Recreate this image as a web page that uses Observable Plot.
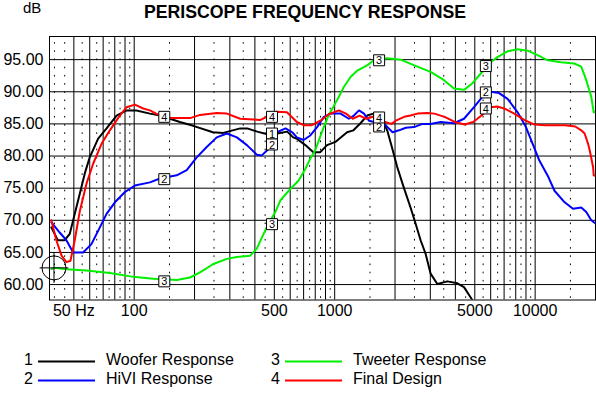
<!DOCTYPE html>
<html><head><meta charset="utf-8">
<script src="https://cdn.jsdelivr.net/npm/d3@7"></script>
<script src="https://cdn.jsdelivr.net/npm/@observablehq/plot@0.6"></script>
<style>
body{margin:0;background:#fff;}
#chart{width:596px;height:394px;}
</style>
</head><body><div id="chart"></div>
<script>
// ---- data (frequency Hz, level dB) ----
const woofer = [[38.6,68.9],[41.6,66.9],[45.0,66.9],[47.7,67.9],[49.6,70.0],[53.6,74.2],[56.7,77.3],[60.0,79.8],[66.1,82.7],[72.8,84.3],[81.7,86.3],[91.6,87.1],[102.8,87.1],[119.8,86.6],[134.5,86.3],[169,85.3],[197,84.7],[247,83.7],[278,83.6],[338,84.3],[366,84.3],[411,83.8],[461,83.4],[517,83.5],[580,83.8],[621,82.9],[648,82.7],[714,81.7],[783,80.6],[848,80.6],[916,81.7],[1008,82.2],[1153,83.7],[1240,84.0],[1345,85.1],[1452,86.3],[1561,86.6],[1692,86.1],[1828,84.0],[1936,81.2],[2051,78.3],[2206,75.2],[2390,72.0],[2532,69.5],[2683,66.9],[2841,64.8],[3010,61.7],[3251,60.1],[3648,60.5],[4093,60.2],[4416,59.6],[4771,58.0],[4900,57.4]];
const hivi = [[38.6,69.7],[42.5,68.1],[45.9,66.9],[49.6,65.0],[55.6,65.0],[61.2,66.3],[67.4,68.9],[72.8,71.0],[80.1,72.8],[89.9,74.4],[100.8,75.4],[119.8,75.9],[134.5,76.5],[162.9,77.0],[182.8,77.8],[205,79.8],[230,81.4],[258,82.9],[290,83.5],[325,82.9],[365,81.7],[409,80.2],[433,80.1],[468,81.1],[515,83.7],[569,84.3],[614,83.7],[648,82.9],[700,82.5],[756,83.2],[817,84.5],[883,86.1],[953,86.6],[1070,86.6],[1177,85.8],[1247,86.3],[1322,87.1],[1400,86.6],[1483,85.5],[1570,85.3],[1730,85.3],[1834,84.5],[1943,83.7],[2094,84.0],[2263,84.4],[2490,84.5],[2742,85.0],[3010,85.0],[3373,85.3],[3935,85.1],[4416,85.8],[4955,87.6],[5455,89.2],[6003,90.0],[6607,89.8],[7285,88.9],[8175,86.8],[8998,84.5],[9719,81.9],[10498,79.3],[11568,76.9],[12488,74.6],[14031,72.8],[15442,71.8],[16982,72.0],[17989,71.3],[19055,70.0],[20000,69.5]];
const tweeter = [[38.6,62.4],[40.1,62.6],[45.9,62.4],[57.8,62.2],[75.6,61.8],[98.9,61.2],[124.5,60.9],[162.9,60.7],[190,61.1],[213,61.9],[248,63.2],[290,64.0],[325,64.3],[379,64.5],[409,65.6],[442,67.9],[468,69.5],[506,71.3],[536,73.1],[590,74.6],[661,76.2],[714,78.0],[756,79.6],[800,80.9],[865,83.8],[934,86.4],[1028,88.7],[1109,90.7],[1200,92.3],[1297,93.3],[1452,94.1],[1570,94.9],[1834,95.2],[2138,95.0],[2494,94.1],[3010,93.1],[3511,91.8],[3935,90.5],[4416,90.3],[4858,91.3],[5345,92.8],[6003,94.6],[6486,95.4],[7278,96.3],[8175,96.6],[9170,96.4],[10290,95.7],[11550,94.9],[13460,94.6],[15660,94.4],[16982,93.9],[17989,91.8],[19055,89.2],[19590,86.8],[20000,86.8]];
const finalDesign = [[38.6,70.0],[40.9,66.9],[43.4,64.5],[45.9,63.5],[48.1,63.7],[50.5,66.9],[53.6,71.5],[57.8,75.7],[62.4,78.8],[68.7,81.9],[75.6,84.0],[84.8,86.3],[91.6,87.6],[100.8,88.0],[110.9,87.4],[119.8,87.1],[134.5,86.3],[151,85.9],[190,85.9],[213,86.4],[258,86.7],[290,86.6],[338,85.8],[394,85.7],[424,85.6],[458,86.1],[515,86.9],[578,86.8],[648,85.3],[700,84.8],[770,84.8],[848,85.5],[934,86.5],[1050,87.1],[1138,86.6],[1230,85.8],[1330,86.3],[1437,85.8],[1553,86.1],[1679,85.8],[1778,85.3],[1923,85.0],[2018,85.5],[2222,86.1],[2390,86.3],[2585,86.6],[2907,86.7],[3143,86.6],[3535,86.1],[3967,85.3],[4450,84.9],[4906,85.3],[5400,86.3],[6003,87.6],[6470,87.7],[7000,87.4],[7870,86.6],[8851,85.6],[9942,84.9],[11170,84.8],[12560,84.8],[14100,84.8],[15850,84.6],[16982,84.0],[17650,83.5],[18370,81.9],[18710,80.9],[19450,78.3],[19600,77.0],[20000,76.9]];

const seriesIds = ["1","2","3","4"];
const seriesNames = ["Woofer Response","HiVI Response","Tweeter Response","Final Design"];
const seriesColors = ["#000000","#0000ff","#00f000","#ff0000"];
const seriesData = [woofer, hivi, tweeter, finalDesign];

// curve label boxes
const labelIds = ["4","2","3","4","1","2","3","3","2","4","3","2","4"];
const labelHz  = [141.3,141.3,141.3,486.7,486.7,486.7,486.7,1666,1666,1666,5676,5676,5676];
const labelDb  = [86.1,76.4,60.5,86.1,83.5,81.8,69.4,94.9,84.6,86.0,94.0,89.9,87.4];

// cursor marker
const cursorHz = [39.8];
const cursorDb = [62.6];

const yTicks = [60,65,70,75,80,85,90,95];
const xTicks = [50,100,500,1000,5000,10000];
const xTickLabels = ["50 Hz","100","500","1000","5000","10000"];
const solidGrid = [50,60,70,80,90,100,200,300,400,500,600,700,800,900,1000,2000,3000,4000,5000,6000,7000,8000,9000,10000];
const dottedGrid = [40,45,55,65,75,85,95,150,250,350,450,550,650,750,850,950,1500,2500,3500,4500,5500,6500,7500,8500,9500,15000];
const yDomain = [57.6, 98.6];
const xDomain = [37.8, 20000];

// ---- build ----
const labelRows = labelIds.map((id, i) => ({id, hz: labelHz[i], db: labelDb[i]}));
const cursorRows = cursorHz.map((h, i) => ({hz: h, db: cursorDb[i]}));
const xTickRows = xTicks.map((t, i) => ({t, label: xTickLabels[i]}));

const crosshair = {
  draw(ctx, size) {
    const r = Math.sqrt(size / Math.PI);
    ctx.moveTo(r, 0); ctx.arc(0, 0, r, 0, 2 * Math.PI);
    ctx.moveTo(-r * 1.2, 0); ctx.lineTo(r * 1.2, 0);
    ctx.moveTo(0, -r * 1.25); ctx.lineTo(0, r * 1.25);
  }
};

const FONT = "'Liberation Sans', Arial, Helvetica, sans-serif";

const plot = Plot.plot({
  width: 596, height: 394,
  marginTop: 36, marginBottom: 94.5, marginLeft: 49, marginRight: 1,
  x: {type: "log", domain: xDomain, axis: null},
  y: {domain: yDomain, axis: null},
  style: {background: "white", color: "black", fontFamily: FONT},
  marks: [
    Plot.ruleX(dottedGrid, {x: d => d, y1: () => yDomain[0], y2: () => yDomain[1], stroke: "black", strokeWidth: 1, strokeDasharray: "1.6,6.6", strokeDashoffset: 6.6}),
    Plot.ruleX(solidGrid, {x: d => d, stroke: "black", strokeWidth: 1}),
    Plot.ruleY(yTicks, {y: d => d, stroke: "black", strokeWidth: 1}),
    Plot.frame({stroke: "black", strokeWidth: 1}),
    ...seriesData.map((pts, k) => Plot.line(pts, {x: d => d[0], y: d => d[1], stroke: seriesColors[k], strokeWidth: 2, clip: true})),
    Plot.dot(labelRows, {x: "hz", y: "db", symbol: "square", r: 6.2, fill: "white", stroke: "black", strokeWidth: 1}),
    Plot.text(labelRows, {x: "hz", y: "db", text: "id", fontSize: 11, fill: "black", dy: 0.5}),
    Plot.dot(cursorRows, {x: "hz", y: "db", symbol: crosshair, r: 12, stroke: "black", fill: "none", strokeWidth: 1}),
    Plot.axisY(yTicks, {tickSize: 0, tickPadding: 6, tickFormat: d => d.toFixed(2), fontSize: 16, fill: "black", label: null}),
    Plot.text(xTickRows, {x: "t", text: "label", frameAnchor: "bottom", lineAnchor: "top", dy: 5, fontSize: 16, fill: "black"})
  ]
});
document.getElementById("chart").appendChild(plot);

// ---- title, unit, legend ----
const svg = d3.select(plot);
svg.append("text").attr("x", 305).attr("y", 18).attr("text-anchor", "middle")
  .attr("font-family", FONT).attr("font-weight", "bold").attr("font-size", 17.7).attr("fill", "black")
  .text("PERISCOPE FREQUENCY RESPONSE");
svg.append("text").attr("x", 23).attr("y", 13).attr("text-anchor", "start").attr("font-family", FONT).attr("font-size", 15).attr("fill", "black").text("dB");

const legCols = [33, 280];
const legRows = [365, 384];
seriesIds.forEach((id, k) => {
  const cx = legCols[Math.floor(k / 2)], by = legRows[k % 2];
  const g = svg.append("g");
  g.append("text").attr("x", cx).attr("y", by).attr("text-anchor", "end").attr("font-family", FONT).attr("font-size", 16).attr("fill", "black").text(id);
  g.append("line").attr("x1", cx + 5).attr("x2", cx + 62).attr("y1", by - 3.5).attr("y2", by - 3.5).attr("stroke", seriesColors[k]).attr("stroke-width", 2);
  g.append("text").attr("x", cx + 73).attr("y", by).attr("text-anchor", "start").attr("font-family", FONT).attr("font-size", 16).attr("fill", "black").text(seriesNames[k]);
});
</script>
</body></html>
